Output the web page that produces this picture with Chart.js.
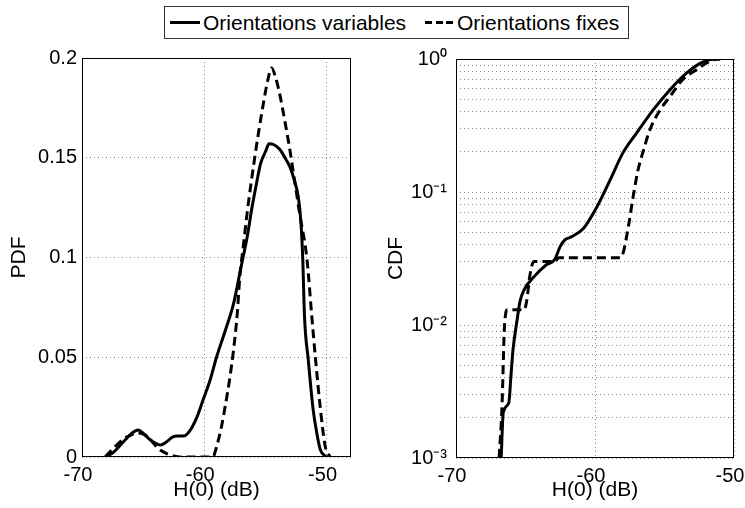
<!DOCTYPE html>
<html>
<head>
<meta charset="utf-8">
<script src="https://cdn.jsdelivr.net/npm/chart.js@4/dist/chart.umd.min.js"></script>
<style>
  html, body { margin:0; padding:0; background:#fff; width:745px; height:508px; overflow:hidden; }
  #c1 { position:absolute; left:0; top:0; }
  #c2 { position:absolute; left:372px; top:0; }
  #legend { position:absolute; left:164px; top:6px; width:463px; height:31px; border:1px solid #333;
            background:#fff; font:21px "Liberation Sans", Arial, sans-serif; color:#000; z-index:5; }
  #legend .tx { position:absolute; top:0; line-height:31px; white-space:nowrap; }
  #legend .ln { position:absolute; top:14px; width:30px; height:3px; background:#000; }
  #legend .dl { position:absolute; top:14px; width:28px; height:3px;
                background:repeating-linear-gradient(to right, #000 0 7px, transparent 7px 10.5px); }
</style>
</head>
<body>
<canvas id="c1" width="372" height="508"></canvas>
<canvas id="c2" width="373" height="508"></canvas>
<div id="legend">
  <span class="ln" style="left:5px"></span>
  <span class="tx" id="lg0" style="left:38px"></span>
  <span class="dl" style="left:260px"></span>
  <span class="tx" id="lg1" style="left:292px"></span>
</div>
<script>
// ---------- data ----------
const seriesNames = ['Orientations variables', 'Orientations fixes'];
const xTitle = 'H(0) (dB)';
const pdfTitle = 'PDF';
const cdfTitle = 'CDF';

const pdfXTicks = [-70, -60, -50];
const pdfYTicks = [0, 0.05, 0.1, 0.15, 0.2];
const pdfYLabels = ['0', '0.05', '0.1', '0.15', '0.2'];
const cdfXTicks = [-70, -60, -50];
const cdfMajorTicks = [0.001, 0.01, 0.1, 1];
const cdfTickLabels = ['10\u207B\u00B3', '10\u207B\u00B2', '10\u207B\u00B9', '10\u2070'];
const cdfMinorMultipliers = [2, 3, 4, 5, 6, 7, 8, 9];

// PDF, variable orientations (solid)
const pdfVarX = [-68.1, -67.5, -67.0, -66.4, -65.9, -65.4, -65.0, -64.5, -64.0, -63.6, -63.1, -62.6, -62.2, -61.7,
                 -61.2, -60.6, -60.1, -59.5, -59.0, -58.3, -57.6, -57.0, -56.5, -56.1, -55.7, -55.4, -55.0, -54.7,
                 -54.3, -53.8, -53.4, -53.0, -52.6, -52.3, -52.1, -51.95, -51.8, -51.5, -51.1, -50.8, -50.5, -50.0];
const pdfVarY = [0, 0.002, 0.005, 0.009, 0.012, 0.0135, 0.012, 0.009, 0.007, 0.006, 0.0075, 0.010, 0.0105, 0.0105,
                 0.013, 0.020, 0.0286, 0.039, 0.050, 0.063, 0.077, 0.095, 0.110, 0.125, 0.138, 0.147, 0.153, 0.157,
                 0.1565, 0.154, 0.150, 0.1455, 0.138, 0.130, 0.118, 0.100, 0.070, 0.049, 0.024, 0.012, 0.0035, 0];

// PDF, fixed orientations (dashed)
const pdfFixX = [-68.1, -67.5, -67.0, -66.5, -66.0, -65.5, -65.0, -64.6, -64.1, -63.6, -63.0, -62.5, -62.0, -59.3,
                 -59.0, -58.6, -58.2, -57.9, -57.6, -57.3, -57.1, -56.8, -56.5, -55.9, -55.2, -54.8, -54.5, -54.2,
                 -53.8, -53.4, -53.0, -52.6, -52.2, -51.6, -51.2, -50.9, -50.5, -50.1, -49.7];
const pdfFixY = [0, 0.004, 0.007, 0.0095, 0.011, 0.012, 0.0115, 0.010, 0.0065, 0.0035, 0.0015, 0.0005, 0, 0,
                 0.005, 0.015, 0.0286, 0.040, 0.054, 0.072, 0.090, 0.106, 0.122, 0.149, 0.176, 0.189, 0.195, 0.191,
                 0.181, 0.168, 0.154, 0.138, 0.122, 0.099, 0.070, 0.049, 0.024, 0.005, 0];

// CDF, variable orientations (solid)
const cdfVarX = [-66.75, -66.6, -66.2, -66.05, -65.9, -65.6, -65.4, -65.1, -64.4, -63.5, -62.9, -62.5, -62.15, -61.7,
                 -60.8, -59.9, -58.9, -58.0, -57.0, -55.8, -54.6, -53.4, -52.5, -51.7, -51.0];
const cdfVarY = [0.001, 0.0022, 0.0026, 0.0041, 0.0065, 0.011, 0.015, 0.0184, 0.023, 0.0284, 0.031, 0.039, 0.0438, 0.046,
                 0.0537, 0.076, 0.124, 0.196, 0.278, 0.416, 0.588, 0.785, 0.92, 0.99, 1.0];

// CDF, fixed orientations (dashed)
const cdfFixX = [-66.9, -66.7, -66.5, -66.3, -65.1, -64.9, -64.7, -64.4, -62.9, -62.6, -58.2, -57.97, -57.6, -57.25,
                 -56.9, -56.5, -56.05, -55.3, -54.6, -53.7, -52.7, -52.0, -51.4, -51.0];
const cdfFixY = [0.001, 0.0023, 0.0103, 0.013, 0.013, 0.0155, 0.023, 0.030, 0.030, 0.032, 0.032, 0.035, 0.055, 0.093,
                 0.147, 0.208, 0.294, 0.416, 0.523, 0.70, 0.83, 0.93, 0.99, 1.0];

// ---------- rendering ----------
document.getElementById('lg0').textContent = seriesNames[0];
document.getElementById('lg1').textContent = seriesNames[1];

const FAMILY = '"Liberation Sans", Arial, Helvetica, sans-serif';
const pts = (xs, ys) => xs.map((x, i) => ({ x: x, y: ys[i] }));

const framePlugin = {
  id: 'frame',
  afterDraw(chart) {
    const { ctx, chartArea: a } = chart;
    ctx.save();
    ctx.strokeStyle = '#000';
    ctx.lineWidth = 1;
    ctx.setLineDash([]);
    const l = Math.round(a.left) + 0.5, t = Math.round(a.top) + 0.5;
    const r = Math.round(a.right) - 0.5, b = Math.round(a.bottom) - 0.5;
    ctx.strokeRect(l, t, r - l, b - t);
    ctx.restore();
  }
};

function lineDatasets(x0, y0, x1, y1) {
  return [
    { label: seriesNames[0], data: pts(x0, y0), borderColor: '#000', borderWidth: 3, pointRadius: 0,
      cubicInterpolationMode: 'monotone', fill: false },
    { label: seriesNames[1], data: pts(x1, y1), borderColor: '#000', borderWidth: 3, pointRadius: 0,
      borderDash: [9, 5], cubicInterpolationMode: 'monotone', fill: false }
  ];
}

const gridCommon = { color: '#8a8a8a', lineWidth: 1, drawTicks: false };
const borderCommon = { display: false, dash: [1, 3] };

new Chart(document.getElementById('c1'), {
  type: 'line',
  data: { datasets: lineDatasets(pdfVarX, pdfVarY, pdfFixX, pdfFixY) },
  options: {
    responsive: false, animation: false, devicePixelRatio: 1,
    layout: { padding: { top: 58, right: 21, left: 0, bottom: 0 } },
    plugins: { legend: { display: false }, tooltip: { enabled: false } },
    scales: {
      x: {
        type: 'linear', min: -70, max: -48,
        afterBuildTicks: s => { s.ticks = pdfXTicks.map(v => ({ value: v })); },
        afterFit: s => { s.height = 51; s.paddingLeft = 0; s.paddingRight = 0; },
        ticks: { autoSkip: false, maxRotation: 0, padding: 6, labelOffset: -4, color: '#000',
                 font: { family: FAMILY, size: 20 }, callback: v => String(v) },
        grid: gridCommon, border: borderCommon,
        title: { display: true, text: xTitle, color: '#000', font: { family: FAMILY, size: 21 },
                 padding: { top: 0, bottom: 5 } }
      },
      y: {
        type: 'linear', min: 0, max: 0.2,
        afterBuildTicks: s => { s.ticks = pdfYTicks.map(v => ({ value: v })); },
        afterFit: s => { s.width = 82; s.paddingTop = 0; s.paddingBottom = 0; },
        ticks: { autoSkip: false, padding: 5, color: '#000', font: { family: FAMILY, size: 20 },
                 callback: (v, i) => pdfYLabels[i] },
        grid: gridCommon, border: borderCommon,
        title: { display: true, text: pdfTitle, color: '#000', font: { family: FAMILY, size: 21 },
                 padding: { top: 7, bottom: 0 } }
      }
    }
  },
  plugins: [framePlugin]
});

function cdfLabel(v) {
  for (let i = 0; i < cdfMajorTicks.length; i++) {
    if (Math.abs(v - cdfMajorTicks[i]) < cdfMajorTicks[i] * 1e-6) return cdfTickLabels[i];
  }
  return '';
}

new Chart(document.getElementById('c2'), {
  type: 'line',
  data: { datasets: lineDatasets(cdfVarX, cdfVarY, cdfFixX, cdfFixY) },
  options: {
    responsive: false, animation: false, devicePixelRatio: 1,
    layout: { padding: { top: 59, right: 11, left: 0, bottom: 0 } },
    plugins: { legend: { display: false }, tooltip: { enabled: false } },
    scales: {
      x: {
        type: 'linear', min: -70, max: -50,
        afterBuildTicks: s => { s.ticks = cdfXTicks.map(v => ({ value: v })); },
        afterFit: s => { s.height = 50; s.paddingLeft = 0; s.paddingRight = 0; },
        ticks: { autoSkip: false, maxRotation: 0, padding: 6, labelOffset: -4, color: '#000',
                 font: { family: FAMILY, size: 20 }, callback: v => String(v) },
        grid: gridCommon, border: borderCommon,
        title: { display: true, text: xTitle, color: '#000', font: { family: FAMILY, size: 21 },
                 padding: { top: 0, bottom: 5 } }
      },
      y: {
        type: 'logarithmic', min: 0.001, max: 1,
        afterBuildTicks: s => {
          const t = [];
          for (let k = 0; k < cdfMajorTicks.length; k++) {
            t.push({ value: cdfMajorTicks[k] });
            if (k < cdfMajorTicks.length - 1) {
              cdfMinorMultipliers.forEach(m => t.push({ value: m * cdfMajorTicks[k] }));
            }
          }
          s.ticks = t;
        },
        afterFit: s => { s.width = 84; s.paddingTop = 0; s.paddingBottom = 0; },
        ticks: { autoSkip: false, padding: 9, color: '#000', font: { family: FAMILY, size: 20 },
                 callback: v => cdfLabel(v) },
        grid: gridCommon, border: borderCommon,
        title: { display: true, text: cdfTitle, color: '#000', font: { family: FAMILY, size: 21 },
                 padding: { top: 12, bottom: 0 } }
      }
    }
  },
  plugins: [framePlugin]
});
</script>
</body>
</html>
